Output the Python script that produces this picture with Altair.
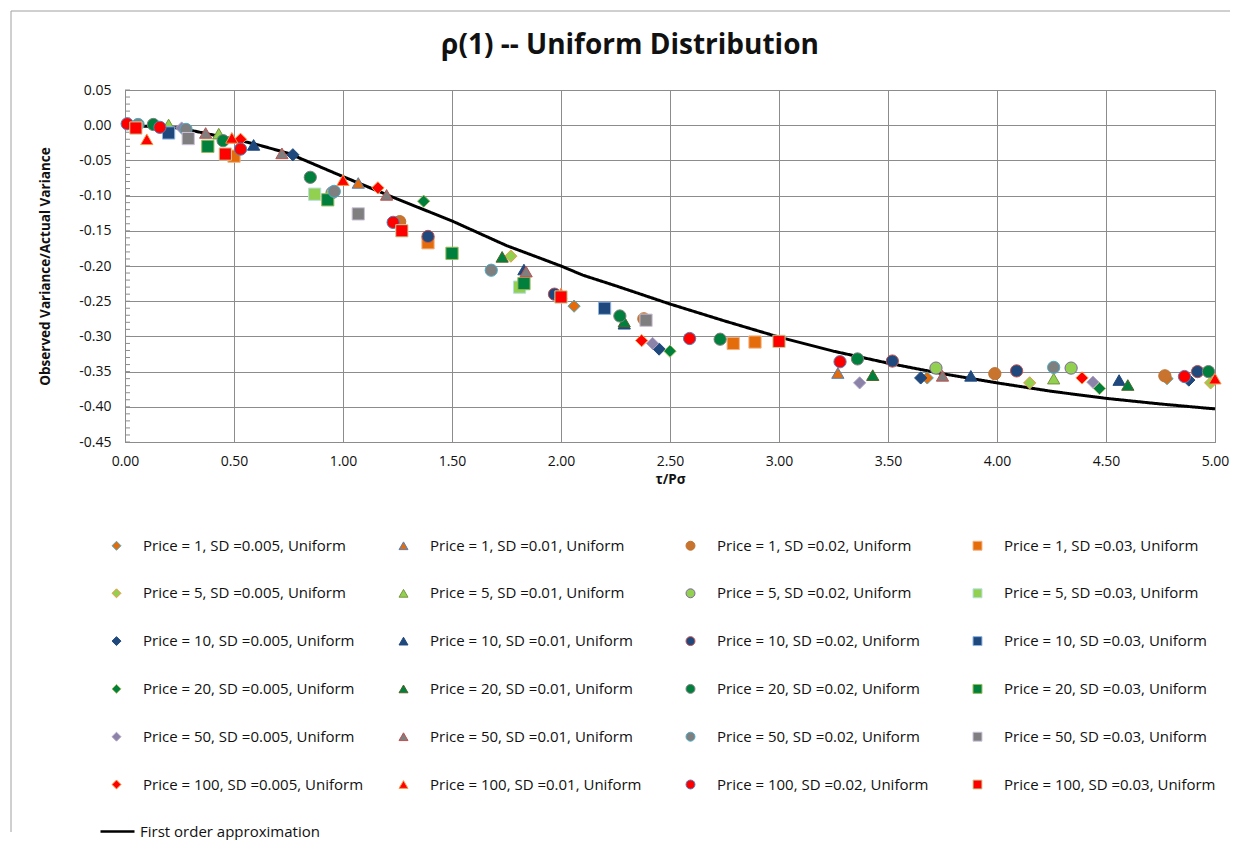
import altair as alt
import pandas as pd

FONT = "Open Sans"
TITLE = "ρ(1) -- Uniform Distribution"
X_TITLE = "τ/Pσ"
Y_TITLE = "Observed Variance/Actual Variance"
LINE_NAME = "First order approximation"

PRICES = [1, 5, 10, 20, 50, 100]
SDS = ["0.005", "0.01", "0.02", "0.03"]

# ---- observed points, one pair of lists per series ----
P1_005_X = [2.06, 3.68, 4.78]
P1_005_Y = [-0.257, -0.359, -0.360]
P1_01_X = [1.07, 3.27]
P1_01_Y = [-0.082, -0.352]
P1_02_X = [1.26, 2.38, 3.99, 4.77]
P1_02_Y = [-0.137, -0.275, -0.353, -0.356]
P1_03_X = [0.50, 1.39, 2.79, 2.89]
P1_03_Y = [-0.044, -0.167, -0.310, -0.308]

P5_005_X = [1.77, 4.15, 4.98]
P5_005_Y = [-0.186, -0.366, -0.366]
P5_01_X = [0.20, 0.43, 4.26]
P5_01_Y = [0.001, -0.012, -0.360]
P5_02_X = [0.95, 3.72, 4.34]
P5_02_Y = [-0.096, -0.345, -0.345]
P5_03_X = [0.87, 1.81]
P5_03_Y = [-0.098, -0.230]

P10_005_X = [0.77, 2.45, 3.65, 4.88]
P10_005_Y = [-0.042, -0.318, -0.359, -0.362]
P10_01_X = [0.59, 1.83, 2.29, 3.88, 4.56]
P10_01_Y = [-0.028, -0.205, -0.282, -0.356, -0.362]
P10_02_X = [1.39, 1.97, 3.52, 4.09, 4.92]
P10_02_Y = [-0.158, -0.240, -0.335, -0.349, -0.350]
P10_03_X = [0.20, 2.20]
P10_03_Y = [-0.011, -0.260]

P20_005_X = [1.37, 2.50, 4.47]
P20_005_Y = [-0.108, -0.321, -0.374]
P20_01_X = [1.73, 2.29, 3.43, 4.60]
P20_01_Y = [-0.187, -0.279, -0.355, -0.369]
P20_02_X = [0.13, 0.45, 0.85, 2.27, 2.73, 3.36, 4.97]
P20_02_Y = [0.001, -0.022, -0.074, -0.271, -0.304, -0.332, -0.350]
P20_03_X = [0.38, 0.93, 1.50, 1.83]
P20_03_Y = [-0.030, -0.106, -0.182, -0.225]

P50_005_X = [0.26, 2.42, 3.37, 4.44]
P50_005_Y = [-0.004, -0.310, -0.366, -0.365]
P50_01_X = [0.37, 0.72, 1.20, 1.84, 3.75]
P50_01_Y = [-0.011, -0.040, -0.099, -0.208, -0.356]
P50_02_X = [0.06, 0.28, 0.96, 1.68, 4.26]
P50_02_Y = [0.001, -0.006, -0.094, -0.206, -0.344]
P50_03_X = [0.29, 1.07, 2.39]
P50_03_Y = [-0.019, -0.126, -0.277]

P100_005_X = [0.53, 1.16, 2.37, 4.39]
P100_005_Y = [-0.020, -0.089, -0.306, -0.359]
P100_01_X = [0.10, 0.49, 1.00, 2.00, 5.00]
P100_01_Y = [-0.020, -0.018, -0.078, -0.239, -0.360]
P100_02_X = [0.01, 0.16, 0.53, 1.23, 2.59, 3.28, 4.86]
P100_02_Y = [0.002, -0.003, -0.034, -0.138, -0.303, -0.336, -0.357]
P100_03_X = [0.05, 0.46, 1.27, 2.00, 3.00]
P100_03_Y = [-0.004, -0.041, -0.150, -0.244, -0.307]

# ---- first order approximation curve ----
APPROX_X = [0.0, 0.25, 0.5, 0.6, 0.75, 1.0, 1.25, 1.5, 1.75, 2.0, 2.1, 2.25, 2.5,
            2.75, 3.0, 3.25, 3.5, 3.75, 4.0, 4.25, 4.5, 4.75, 5.0]
APPROX_Y = [0.0, -0.004, -0.020, -0.027, -0.040, -0.073, -0.105, -0.136, -0.171,
            -0.200, -0.213, -0.228, -0.254, -0.278, -0.301, -0.321, -0.338, -0.353,
            -0.366, -0.378, -0.388, -0.396, -0.403]

Y_TICKS = [0.05, 0.0, -0.05, -0.10, -0.15, -0.20, -0.25, -0.30, -0.35, -0.40, -0.45]
X_TICKS = [0.0, 0.5, 1.0, 1.5, 2.0, 2.5, 3.0, 3.5, 4.0, 4.5, 5.0]

SERIES_XY = [
    (P1_005_X, P1_005_Y), (P1_01_X, P1_01_Y), (P1_02_X, P1_02_Y), (P1_03_X, P1_03_Y),
    (P5_005_X, P5_005_Y), (P5_01_X, P5_01_Y), (P5_02_X, P5_02_Y), (P5_03_X, P5_03_Y),
    (P10_005_X, P10_005_Y), (P10_01_X, P10_01_Y), (P10_02_X, P10_02_Y), (P10_03_X, P10_03_Y),
    (P20_005_X, P20_005_Y), (P20_01_X, P20_01_Y), (P20_02_X, P20_02_Y), (P20_03_X, P20_03_Y),
    (P50_005_X, P50_005_Y), (P50_01_X, P50_01_Y), (P50_02_X, P50_02_Y), (P50_03_X, P50_03_Y),
    (P100_005_X, P100_005_Y), (P100_01_X, P100_01_Y), (P100_02_X, P100_02_Y), (P100_03_X, P100_03_Y),
]

# ---- styles ----
SHAPES_BY_SD = ["diamond", "triangle-up", "circle", "square"]
FILLS = [
    "#E46C0A", "#E46C0A", "#C8742F", "#E46C0A",
    "#92D050", "#92D050", "#92D050", "#92D050",
    "#1F497D", "#1F497D", "#1F497D", "#1F497D",
    "#00803C", "#00803C", "#00803C", "#00803C",
    "#8B83A8", "#7F7F7F", "#7F7F7F", "#7F7F7F",
    "#FF0000", "#FF0000", "#FF0000", "#FF0000",
]
STROKES = [
    "#4BACC6", "#4F81BD", "#C0712F", "#F4B183",
    "#F79646", "#77933C", "#8064A2", "#B7DEE8",
    "#1F497D", "#1F497D", "#C0504D", "#8EB4E3",
    "#9BBB59", "#4F6228", "#7F7F7F", "#9BBB59",
    "#B3A2C7", "#C0504D", "#4BACC6", "#CCC1DA",
    "#F79646", "#F79646", "#4F81BD", "#C3D69B",
]

names, shapes = [], []
rows = []
i = 0
for p in PRICES:
    for j, sd in enumerate(SDS):
        name = f"Price = {p}, SD ={sd}, Uniform"
        names.append(name)
        shapes.append(SHAPES_BY_SD[j])
        xs, ys = SERIES_XY[i]
        for xv, yv in zip(xs, ys):
            rows.append({"series": name, "x": xv, "y": yv})
        i += 1
points_df = pd.DataFrame(rows)
line_df = pd.DataFrame({"x": APPROX_X, "y": APPROX_Y, "name": LINE_NAME})
minor_df = pd.DataFrame({"v": [round(-0.45 + 0.01 * k, 2) for k in range(51)]})
one_df = pd.DataFrame({"t": [TITLE]})

x_scale = alt.Scale(domain=[0, 5], nice=False, zero=False)
y_scale = alt.Scale(domain=[-0.45, 0.05], nice=False, zero=False)

x_axis = alt.Axis(
    values=X_TICKS, format=".2f", title=X_TITLE, grid=True, ticks=False,
    labelPadding=12, titlePadding=4, labelFont=FONT, labelFontSize=14,
    titleFont=FONT, titleFontSize=13.5, titleFontWeight="bold",
    labelColor="#111", titleColor="#111", gridColor="#8c8c8c",
    domainColor="#8c8c8c", labelFlush=False,
)
y_axis = alt.Axis(
    values=Y_TICKS, title=Y_TITLE, grid=True, ticks=False,
    labelExpr="replace(format(datum.value, '.2f'), '\u2212', '-')",
    labelPadding=14, titlePadding=26, labelFont=FONT, labelFontSize=14,
    titleFont=FONT, titleFontSize=13.5, titleFontWeight="bold",
    labelColor="#111", titleColor="#111", gridColor="#8c8c8c",
    domainColor="#8c8c8c",
)

legend_pts = alt.Legend(
    title=None, orient="none", legendX=-16, legendY=448, columns=4,
    direction="horizontal", gridAlign="all", columnPadding=32, rowPadding=31.8,
    padding=0, labelFont=FONT, labelFontSize=15, labelColor="#111",
    labelLimit=400, symbolSize=80, symbolStrokeWidth=1, labelOffset=19,
)

points = alt.Chart(points_df).mark_point(filled=True, size=150, strokeWidth=1, opacity=1).encode(
    x=alt.X("x:Q", scale=x_scale, axis=x_axis),
    y=alt.Y("y:Q", scale=y_scale, axis=y_axis),
    color=alt.Color("series:N", scale=alt.Scale(domain=names, range=FILLS), legend=legend_pts),
    shape=alt.Shape("series:N", scale=alt.Scale(domain=names, range=shapes), legend=legend_pts),
    stroke=alt.Stroke("series:N", scale=alt.Scale(domain=names, range=STROKES), legend=legend_pts),
)

line = alt.Chart(line_df).mark_line(color="black", strokeWidth=3).encode(
    x=alt.X("x:Q", scale=x_scale, axis=x_axis),
    y=alt.Y("y:Q", scale=y_scale, axis=y_axis),
    strokeDash=alt.StrokeDash(
        "name:N", scale=alt.Scale(domain=[LINE_NAME], range=[[1, 0]]),
        legend=alt.Legend(
            title=None, orient="none", legendX=-26, legendY=723, padding=0,
            symbolType="stroke", symbolSize=1156, symbolStrokeColor="black",
            symbolStrokeWidth=2.5, labelFont=FONT, labelFontSize=15,
            labelColor="#111", labelOffset=4, labelLimit=400,
        ),
    ),
)

minor = alt.Chart(minor_df).mark_rule(color="#8c8c8c", strokeWidth=1).encode(
    y=alt.Y("v:Q", scale=y_scale, axis=y_axis),
    x=alt.value(0), x2=alt.value(5),
)

frame_top = alt.Chart(one_df).mark_rule(color="#a0a0a0", strokeWidth=1).encode(
    x=alt.value(-114), x2=alt.value(1105), y=alt.value(-79)
)
frame_left = alt.Chart(one_df).mark_rule(color="#a0a0a0", strokeWidth=1).encode(
    x=alt.value(-114), y=alt.value(-79), y2=alt.value(742)
)

title = alt.Chart(one_df).mark_text(
    font=FONT, fontSize=28, fontWeight="bold", color="#111", align="center", baseline="middle"
).encode(text="t:N", x=alt.value(505), y=alt.value(-44))

chart = alt.layer(frame_top, frame_left, minor, line, points, title).properties(
    width=1090, height=352, padding={"left": 2, "top": 2, "right": 0, "bottom": 0},
    background="white",
).configure_view(stroke="#8c8c8c", strokeWidth=1)

chart.save("out.html", embed_options={"renderer": "svg", "actions": False})
